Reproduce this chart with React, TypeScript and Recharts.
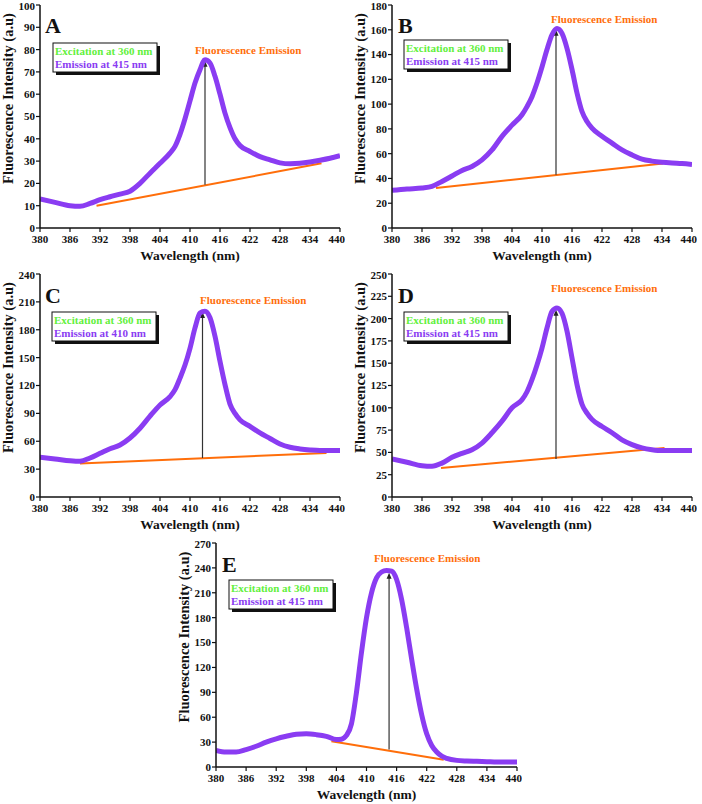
import React from "react";
import { LineChart, Line, XAxis, YAxis, ReferenceLine } from "recharts";

const PURPLE = "#8a3cf2";
const ORANGE = "#ff6e0a";
const GREEN = "#62f03c";
const SERIF = '"Liberation Serif", "Times New Roman", serif';

// wavelengths (nm) sampled for panels A-D
const wavelengthsAD = [
  380, 383, 386, 388, 390, 392, 394, 396, 398, 400, 402, 404, 406, 407, 408, 409,
  410, 411, 412, 413, 414, 415, 416, 417, 418, 419, 420, 422, 424, 426, 428, 430,
  432, 434, 436, 438, 440,
];
const intensityA = [
  13, 11.5, 10, 9.7, 11, 12.7, 14, 15.2, 16.5, 20, 24.6, 29, 33.6, 36.6, 42, 49,
  57, 65, 71, 75.4, 74, 68, 60, 51.5, 45, 40, 37, 34.3, 32, 30.6, 29.2, 28.8,
  29, 29.6, 30.4, 31.3, 32.4,
];
const intensityB = [
  30.4, 31.5, 32.3, 33.6, 37.6, 42, 46.5, 49.7, 55, 63, 74, 83, 91.4, 98, 106, 117,
  130, 144, 156, 161, 157, 145, 128, 109, 94, 86, 80.6, 74, 68.5, 63, 59, 55.6,
  54, 53, 52.4, 52, 51.3,
];
const intensityC = [
  42.7, 41, 39, 38.4, 42, 47, 52, 56, 63.5, 74, 87, 99, 108, 115.5, 128, 142,
  160, 182, 198, 200, 193, 173, 146, 121, 100, 90, 83, 76, 69, 63, 57, 53.5,
  51.7, 50.6, 50, 50, 50,
];
const intensityD = [
  42.6, 38.9, 35, 34.4, 38, 44.5, 49, 53, 60.5, 72, 85, 100, 109, 118, 131.5, 148,
  167, 189.5, 208, 212, 206, 186, 156, 126, 104, 94, 87, 79, 72, 64, 58.7, 55,
  53, 52, 52, 52, 52,
];

// panel E has its own sampling
const wavelengthsE = [
  380, 382, 384, 386, 388, 390, 392, 394, 396, 398, 400, 402, 404, 405, 406, 407,
  408, 409, 410, 411, 412, 413, 414, 415, 416, 417, 418, 419, 420, 421, 422, 423,
  424, 425, 426, 428, 430, 432, 434, 436, 438, 440,
];
const intensityE = [
  20, 18, 18, 21, 25, 30, 34, 37, 39.4, 40, 39, 37, 33, 33.5, 38, 52,
  90, 138, 180, 210, 228, 235, 237, 236, 226, 202, 168, 130, 94, 63, 40, 26,
  18, 13, 10.5, 8, 7.2, 6.8, 6.4, 6, 6, 6,
];

const xTicks = [380, 386, 392, 398, 404, 410, 416, 422, 428, 434, 440];
const xMinorTicks = [383, 389, 395, 401, 407, 413, 419, 425, 431, 437];
const yTicksA = [0, 10, 20, 30, 40, 50, 60, 70, 80, 90, 100];
const yTicksB = [0, 20, 40, 60, 80, 100, 120, 140, 160, 180];
const yTicksC = [0, 30, 60, 90, 120, 150, 180, 210, 240];
const yTicksD = [0, 25, 50, 75, 100, 125, 150, 175, 200, 225, 250];
const yTicksE = [0, 30, 60, 90, 120, 150, 180, 210, 240, 270];

const panelLetters = ["A", "B", "C", "D", "E"];
const excitationLabel = "Excitation at 360 nm";
const emissionLabels = [
  "Emission at 415 nm",
  "Emission at 415 nm",
  "Emission at 410 nm",
  "Emission at 415 nm",
  "Emission at 415 nm",
];

// orange baseline under each peak: [wavelength, intensity]
const baselineStart = [[391.3, 10], [388.8, 32.3], [388, 36], [389.8, 32.5], [403, 31]];
const baselineEnd = [[436.3, 29], [434.2, 52], [437.3, 47.4], [434.5, 55], [425.4, 8.8]];
// vertical arrow from baseline to peak
const arrowX = [413, 412.8, 412.5, 412.8, 414.5];
const arrowFrom = [19.4, 43, 42, 42.6, 21];
const arrowTo = [75, 160, 199, 210, 234];

const toRows = (xs: number[], ys: number[]) => xs.map((w, i) => ({ w, v: ys[i] }));

const panels = [
  { data: toRows(wavelengthsAD, intensityA), ticks: yTicksA },
  { data: toRows(wavelengthsAD, intensityB), ticks: yTicksB },
  { data: toRows(wavelengthsAD, intensityC), ticks: yTicksC },
  { data: toRows(wavelengthsAD, intensityD), ticks: yTicksD },
  { data: toRows(wavelengthsE, intensityE), ticks: yTicksE },
];

// where each chart sits on the page, and where its annotations go (relative to plot)
const layout = [
  { left: 0, top: 0, width: 345, height: 265, letter: [5, 28], box: [13, 38], fe: [155, 49] },
  { left: 352, top: 0, width: 345, height: 265, letter: [6, 28], box: [12, 35], fe: [159, 18] },
  { left: 0, top: 269, width: 345, height: 265, letter: [5, 29], box: [12, 38], fe: [160, 30] },
  { left: 352, top: 269, width: 345, height: 265, letter: [6, 29], box: [12, 38], fe: [159, 18] },
  { left: 176, top: 538, width: 346, height: 266, letter: [6, 29], box: [13, 37], fe: [158, 19] },
];

const Y_AXIS_W = 40;
const X_AXIS_H = 37;
const MARGIN = { top: 5, right: 5, left: 0, bottom: 0 };

const tickStyle = { fontFamily: SERIF, fontWeight: 700, fontSize: 11, fill: "#111" };

function YTitle(props: any) {
  const { x, y, height } = props.viewBox;
  const cx = x + 13;
  const cy = y + height / 2 - 18;
  return (
    <text
      x={cx}
      y={cy}
      transform={`rotate(-90 ${cx} ${cy})`}
      textAnchor="middle"
      fontFamily={SERIF}
      fontWeight={700}
      fontSize={14.5}
      fill="#111"
    >
      Fluorescence Intensity (a.u)
    </text>
  );
}

function XTitle(props: any) {
  const { x, y, width } = props.viewBox;
  return (
    <text
      x={x + width / 2}
      y={y + 32}
      textAnchor="middle"
      fontFamily={SERIF}
      fontWeight={700}
      fontSize={13.5}
      fill="#111"
    >
      Wavelength (nm)
    </text>
  );
}

function Arrow(props: any) {
  const { x1, y1, x2, y2 } = props;
  const top = Math.min(y1, y2);
  const bottom = Math.max(y1, y2);
  return (
    <g>
      <line x1={x1} y1={bottom} x2={x2} y2={top + 4} stroke="#333" strokeWidth={1.2} />
      <polygon points={`${x1},${top} ${x1 - 2.5},${top + 6} ${x1 + 2.5},${top + 6}`} fill="#222" />
    </g>
  );
}

function Panel({ index }: { index: number }) {
  const { data, ticks } = panels[index];
  const pos = layout[index];
  const yMax = ticks[ticks.length - 1];
  const plotLeft = Y_AXIS_W + MARGIN.left;
  const plotTop = MARGIN.top;
  const [lx, ly] = pos.letter;
  const [bx, by] = pos.box;
  const [fx, fy] = pos.fe;

  return (
    <div style={{ position: "absolute", left: pos.left, top: pos.top, width: pos.width, height: pos.height }}>
      <LineChart width={pos.width} height={pos.height} data={data} margin={MARGIN}>
        <XAxis
          dataKey="w"
          type="number"
          domain={[380, 440]}
          ticks={xTicks}
          allowDataOverflow
          height={X_AXIS_H}
          tick={tickStyle}
          tickSize={4}
          tickMargin={3}
          axisLine={{ stroke: "#111", strokeWidth: 1.5 }}
          tickLine={{ stroke: "#111", strokeWidth: 1.2 }}
          label={<XTitle />}
        />
        <XAxis
          xAxisId="minor"
          dataKey="w"
          type="number"
          domain={[380, 440]}
          ticks={xMinorTicks}
          height={0}
          mirror
          tick={false}
          tickSize={3}
          axisLine={false}
          tickLine={{ stroke: "#111", strokeWidth: 1 }}
        />
        <XAxis
          xAxisId="top"
          orientation="top"
          dataKey="w"
          type="number"
          domain={[380, 440]}
          height={0}
          tick={false}
          tickLine={false}
          axisLine={{ stroke: "#111", strokeWidth: 1.5 }}
        />
        <YAxis
          type="number"
          domain={[0, yMax]}
          ticks={ticks}
          width={Y_AXIS_W}
          tick={tickStyle}
          tickSize={4}
          tickMargin={1}
          axisLine={{ stroke: "#111", strokeWidth: 1.5 }}
          tickLine={{ stroke: "#111", strokeWidth: 1.2 }}
          label={<YTitle />}
        />
        <YAxis
          yAxisId="right"
          orientation="right"
          type="number"
          domain={[0, yMax]}
          width={0}
          tick={false}
          tickLine={false}
          axisLine={{ stroke: "#111", strokeWidth: 1.5 }}
        />
        <ReferenceLine
          segment={[
            { x: baselineStart[index][0], y: baselineStart[index][1] },
            { x: baselineEnd[index][0], y: baselineEnd[index][1] },
          ]}
          stroke={ORANGE}
          strokeWidth={2}
        />
        <ReferenceLine
          segment={[
            { x: arrowX[index], y: arrowFrom[index] },
            { x: arrowX[index], y: arrowTo[index] },
          ]}
          shape={<Arrow />}
        />
        <Line
          type="monotone"
          dataKey="v"
          stroke={PURPLE}
          strokeWidth={5}
          dot={false}
          activeDot={false}
          isAnimationActive={false}
        />
      </LineChart>
      <svg
        width={pos.width}
        height={pos.height}
        style={{ position: "absolute", left: 0, top: 0, pointerEvents: "none" }}
      >
        <g transform={`translate(${plotLeft}, ${plotTop})`} fontFamily={SERIF} fontWeight={700}>
          <text x={lx} y={ly} fontSize={22} fill="#111">
            {panelLetters[index]}
          </text>
          <rect x={bx + 3} y={by + 3} width={104} height={29} fill="#111" />
          <rect x={bx} y={by} width={104} height={29} fill="#fff" stroke="#111" strokeWidth={1} />
          <text x={bx + 2} y={by + 12} fontSize={11} fill={GREEN}>
            {excitationLabel}
          </text>
          <text x={bx + 2} y={by + 24.5} fontSize={11} fill={PURPLE}>
            {emissionLabels[index]}
          </text>
          <text x={fx} y={fy} fontSize={11} fill={ORANGE}>
            Fluorescence Emission
          </text>
        </g>
      </svg>
    </div>
  );
}

export default function App() {
  return (
    <div style={{ position: "absolute", left: 0, top: 0, width: 702, height: 804, background: "#fff" }}>
      {panels.map((_, i) => (
        <Panel key={i} index={i} />
      ))}
    </div>
  );
}
